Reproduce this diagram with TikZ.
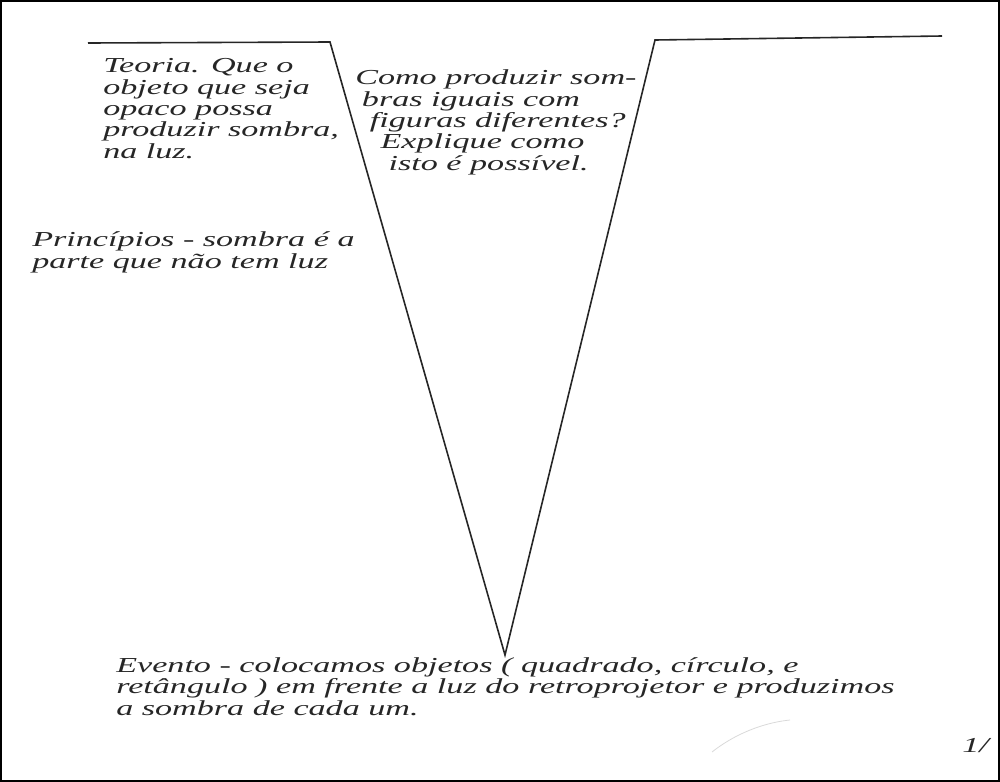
\documentclass[tikz,border=0pt]{standalone}
\usepackage{fontspec}
\newfontfamily\hand{Liberation Serif}[FakeStretch=1.6]
\begin{document}
\begin{tikzpicture}[x=0.75pt,y=-0.75pt,
  hw/.style={font=\hand\itshape\fontsize{16}{16}\selectfont, align=left, anchor=base west, inner sep=0pt, text=black!85},
  vline/.style={line width=1.2pt, black!85}]
\useasboundingbox (0,0) rectangle (1000,782);
\draw[line width=1.2pt] (1,1) rectangle (999,781);
\coordinate (lt) at (88,43);
\coordinate (lc) at (330,42);
\coordinate (bot) at (505,655);
\coordinate (rc) at (655,40);
\coordinate (rt) at (942,36);
\draw[vline] (lt) -- (lc) -- (bot) -- (rc) -- (rt);
% base anchor = baseline of the last line
\node[hw] (teoria) at (103,158) {Teoria. Que o\\objeto que seja\\opaco possa\\produzir sombra,\\na luz.};
\node[hw] (questao) at (355,170) {Como produzir som-\\\hspace*{5pt}bras iguais com\\\hspace*{11pt}figuras diferentes?\\\hspace*{19pt}Explique como\\\hspace*{25pt}isto é possível.};
\node[hw] (principios) at (32,268) {Princípios - sombra é a\\parte que não tem luz};
\node[hw] (evento) at (116,715) {Evento - colocamos objetos ( quadrado, círculo, e\\retângulo ) em frente a luz do retroprojetor e produzimos\\a sombra de cada um.};
\node[hw] (pagina) at (962,752) {1/};
\draw[black!15, line width=0.6pt] (712,752) .. controls (740,730) and (770,722) .. (790,720);
\end{tikzpicture}
\end{document}
